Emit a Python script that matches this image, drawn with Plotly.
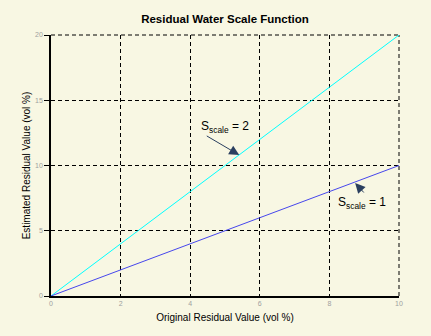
import plotly.graph_objects as go

x_vals = [0, 10]
s1_vals = [0, 10]
s2_vals = [0, 20]
x_ticks = [0, 2, 4, 6, 8, 10]
y_ticks = [0, 5, 10, 15, 20]

bg = "#F8F7E3"
fig = go.Figure()
fig.add_trace(go.Scatter(x=x_vals, y=s2_vals, mode="lines", line=dict(color="#00FFFF", width=1), showlegend=False))
fig.add_trace(go.Scatter(x=x_vals, y=s1_vals, mode="lines", line=dict(color="#4646EC", width=1), showlegend=False))

dash = "4px,3px"
fig.update_layout(
    width=431, height=336,
    paper_bgcolor=bg, plot_bgcolor=bg,
    margin=dict(l=51, r=32, t=35, b=40),
    font=dict(family="Arial", color="black"),
    title=dict(text="<b>Residual Water Scale Function</b>", x=0.522, xanchor="center", y=0.943, yanchor="middle",
               font=dict(size=11.5, color="black")),
    xaxis=dict(range=[0, 10], tickvals=x_ticks, showgrid=True, gridcolor="black", griddash=dash, gridwidth=1,
               showline=True, linecolor="black", linewidth=1.5, zeroline=False,
               ticks="", tickfont=dict(size=7, color="#A0A0A0"),
               title=dict(text="Original Residual Value (vol %)", font=dict(size=10), standoff=8)),
    yaxis=dict(range=[0, 20], tickvals=y_ticks, showgrid=True, gridcolor="black", griddash=dash, gridwidth=1,
               showline=True, linecolor="black", linewidth=1.5, zeroline=False,
               ticks="outside", ticklen=5, tickcolor="black", tickfont=dict(size=7, color="#A0A0A0"),
               title=dict(text="Estimated Residual Value (vol %)", font=dict(size=10), standoff=3)),
    shapes=[
        dict(type="line", xref="paper", yref="paper", x0=0, x1=1, y0=1, y1=1,
             line=dict(color="black", width=1, dash=dash), layer="below"),
        dict(type="line", xref="paper", yref="paper", x0=1, x1=1, y0=0, y1=1,
             line=dict(color="black", width=1, dash=dash), layer="below"),
    ],
    annotations=[
        dict(x=4.99, y=12.95, text="S<sub>scale</sub> = 2", showarrow=False, font=dict(size=12, color="black")),
        dict(x=5.41, y=10.8, text="", showarrow=True, arrowhead=2, arrowsize=2, arrowwidth=1,
             ax=-34, ay=-20),
        dict(x=8.94, y=7.13, text="S<sub>scale</sub> = 1", showarrow=False, font=dict(size=12, color="black")),
        dict(x=8.74, y=8.66, text="", showarrow=True, arrowhead=2, arrowsize=2, arrowwidth=1,
             ax=10, ay=11),
    ],
)
fig.write_html("out.html")
